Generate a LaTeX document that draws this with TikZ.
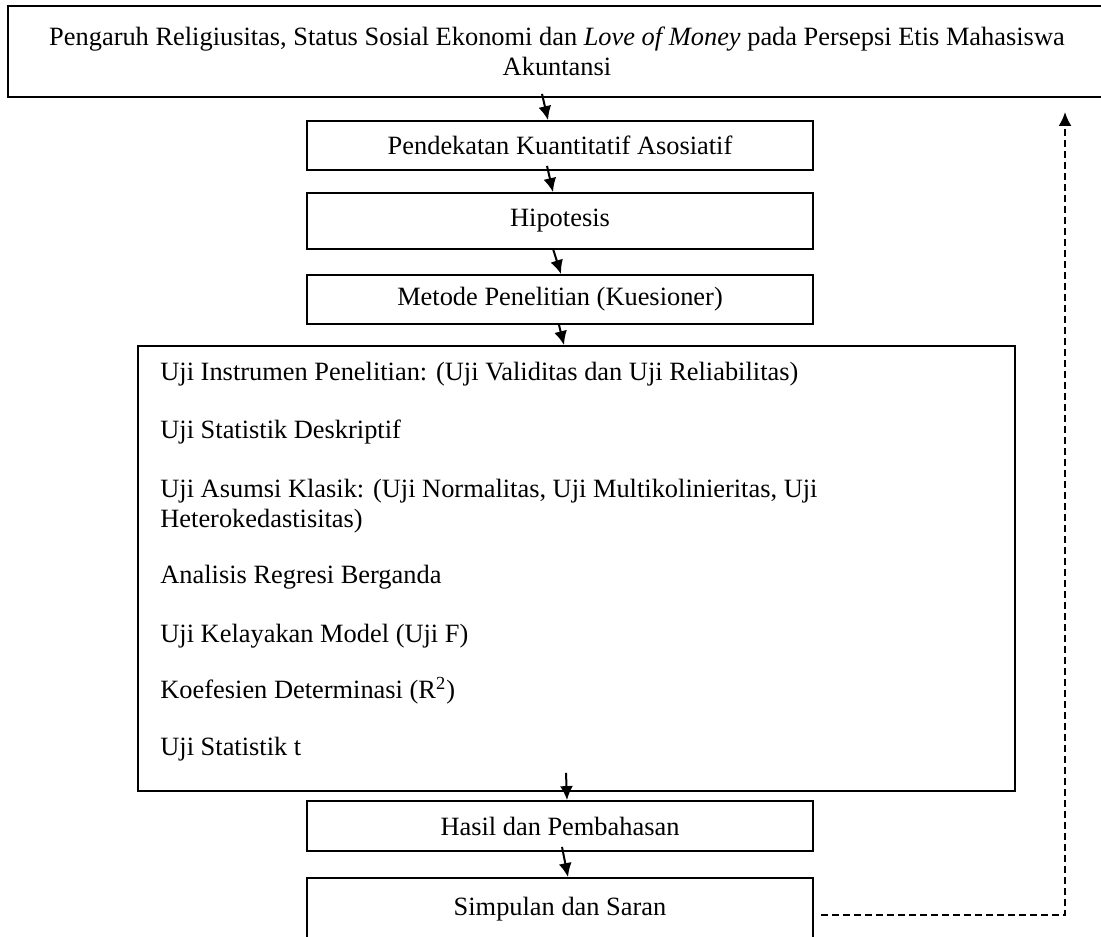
\documentclass[tikz,border=0pt]{standalone}
\usepackage{fontspec}
\setmainfont{Liberation Serif}
\usetikzlibrary{arrows.meta}

\tikzset{
  kotak/.style={draw, line width=.9pt, inner sep=0pt, align=center},
  butir/.style={anchor=base west, inner sep=0pt, align=left},
  panah/.style={-{Latex[length=7pt,width=6.5pt]}, line width=1pt},
}

\begin{document}
\begin{tikzpicture}[x=.5pt,y=-.5pt,font=\fontsize{13.2}{15}\selectfont]
   \useasboundingbox (0,0) rectangle (1101,936);

   \node[kotak, minimum width=549pt, minimum height=45.5pt] (judul) at (557,51.5)
     {Pengaruh Religiusitas, Status Sosial Ekonomi dan \textit{Love of Money} pada Persepsi Etis Mahasiswa\\ Akuntansi};
   \node[kotak, minimum width=253pt, minimum height=24.5pt] (pendekatan) at (560,145.5) {Pendekatan Kuantitatif Asosiatif};
   \node[kotak, minimum width=253pt, minimum height=28pt] (hipotesis) at (560,221) {Hipotesis};
   \node[kotak, minimum width=253pt, minimum height=24.5pt] (metode) at (560,299.5) {Metode Penelitian (Kuesioner)};
   \node[kotak, minimum width=438.5pt, minimum height=222.5pt] (uji) at (576.5,568.5) {};
   \node[kotak, minimum width=253pt, minimum height=25pt] (hasil) at (560,826) {Hasil dan Pembahasan};
   \node[kotak, minimum width=253pt, minimum height=31pt] (simpulan) at (560,909) {Simpulan dan Saran};

   \node[butir] (u1) at (160,380) {Uji Instrumen Penelitian: (Uji Validitas dan Uji Reliabilitas)};
   \node[butir] (u2) at (160,438) {Uji Statistik Deskriptif};
   % base = baris terakhir
   \node[butir] (u3) at (160,527) {Uji Asumsi Klasik: (Uji Normalitas, Uji Multikolinieritas, Uji\\ Heterokedastisitas)};
   \node[butir] (u4) at (160,583) {Analisis Regresi Berganda};
   \node[butir] (u5) at (160,642) {Uji Kelayakan Model (Uji F)};
   \node[butir] (u6) at (160,698) {Koefesien Determinasi (R\textsuperscript{2})};
   \node[butir] (u7) at (160,755) {Uji Statistik t};

   \coordinate (belok) at (1065,915);
   \coordinate (puncak) at (1065,112);

   \draw[panah] ([xshift=-7.5pt,yshift=2pt]judul.south) -- ([xshift=-6pt]pendekatan.north);
   \draw[panah] ([xshift=-6.5pt,yshift=2.5pt]pendekatan.south) -- ([xshift=-3.5pt]hipotesis.north);
   \draw[panah] ([xshift=-3.5pt,yshift=.5pt]hipotesis.south) -- ([xshift=.5pt]metode.north);
   \draw[panah] ([xshift=-.5pt]metode.south) -- ([xshift=-6.25pt]uji.north);
   \draw[panah] ([xshift=-5.25pt,yshift=9.5pt]uji.south) -- ([xshift=3.5pt]hasil.north);
   \draw[panah] ([xshift=1pt,yshift=2.5pt]hasil.south) -- ([xshift=4pt]simpulan.north);
   % garis balik putus-putus
   \draw[panah, dash pattern=on 3.5pt off 2pt] ([xshift=3.5pt,yshift=-3pt]simpulan.east) -- (belok) -- (puncak);

\end{tikzpicture}
\end{document}
